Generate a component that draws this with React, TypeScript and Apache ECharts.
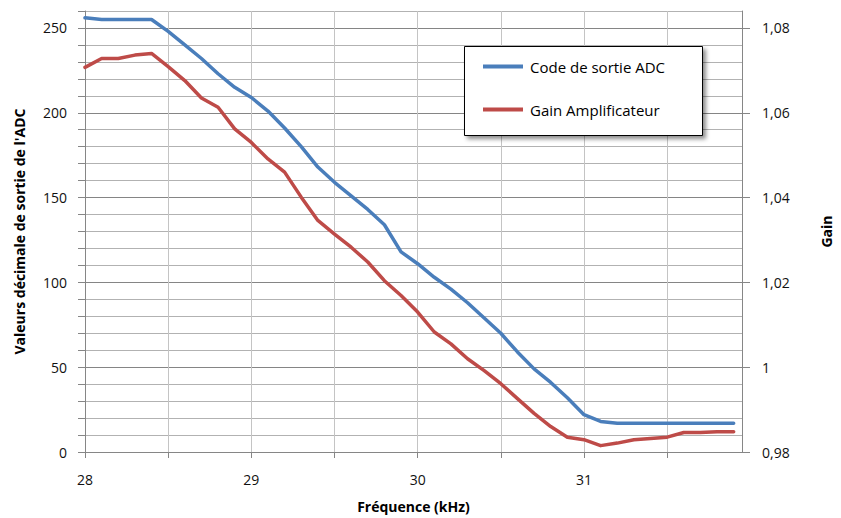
import React, { useEffect, useRef } from "react";
import * as echarts from "echarts";

const freq = [
  28.0, 28.1, 28.2, 28.3, 28.4, 28.5, 28.6, 28.7, 28.8, 28.9,
  29.0, 29.1, 29.2, 29.3, 29.4, 29.5, 29.6, 29.7, 29.8, 29.9,
  30.0, 30.1, 30.2, 30.3, 30.4, 30.5, 30.6, 30.7, 30.8, 30.9,
  31.0, 31.1, 31.2, 31.3, 31.4, 31.5, 31.6, 31.7, 31.8, 31.9,
];

const adcCode = [
  256, 255, 255, 255, 255, 248, 240, 232, 223, 215,
  209, 201, 191, 180, 168, 159, 151, 143, 134, 118,
  111, 103, 96, 88, 79, 70, 59, 49, 41, 32,
  22, 18, 17, 17, 17, 17, 17, 17, 17, 17,
];

const gainAmp = [
  1.0707, 1.0728, 1.0728, 1.0736, 1.074, 1.0709, 1.0676, 1.0635, 1.0613, 1.0562,
  1.053, 1.0491, 1.046, 1.0401, 1.0346, 1.0314, 1.0283, 1.0248, 1.0204, 1.0169,
  1.013, 1.0083, 1.0055, 1.002, 0.9992, 0.9961, 0.9926, 0.9891, 0.986, 0.9835,
  0.9829, 0.9815, 0.9821, 0.9829, 0.9832, 0.9835, 0.9846, 0.9846, 0.9848, 0.9848,
];

const xTicks = [28, 28.5, 29, 29.5, 30, 30.5, 31, 31.5];
const xLabels = [28, 29, 30, 31];
const leftLabels = [0, 50, 100, 150, 200, 250];
const rightLabels = [0.98, 1.0, 1.02, 1.04, 1.06, 1.08];

const seriesNames = ["Code de sortie ADC", "Gain Amplificateur"];
const FONT = "'Open Sans', sans-serif";

export default function App() {
  const ref = useRef<HTMLDivElement>(null);

  useEffect(() => {
    if (!ref.current) return;
    const chart = echarts.init(ref.current, null, { renderer: "svg" });
    const labelStyle = { fontFamily: FONT, fontSize: 14, color: "#111" };
    const nameStyle = { fontFamily: FONT, fontSize: 14, fontWeight: "bold", color: "#000" };
    chart.setOption({
      animation: false,
      backgroundColor: "#fff",
      grid: { left: 85, right: 90, top: 11, bottom: 66 },
      xAxis: {
        type: "value",
        min: 28,
        max: 31.95,
        interval: 0.25,
        axisLine: { show: true, lineStyle: { color: "#868686", width: 1 } },
        axisTick: {
          show: true,
          inside: false,
          length: 6,
          customValues: xTicks,
          lineStyle: { color: "#868686" },
        },
        axisLabel: {
          customValues: xLabels,
          margin: 20,
          ...labelStyle,
          formatter: (v: number) => String(v),
        },
        splitLine: { show: true, lineStyle: { color: "#c4c4c4", width: 1 } },
        name: "Fréquence (kHz)",
        nameLocation: "middle",
        nameGap: 47,
        nameTextStyle: nameStyle,
      },
      yAxis: [
        {
          type: "value",
          min: 0,
          max: 260,
          interval: 10,
          position: "left",
          axisLine: { show: true, lineStyle: { color: "#868686", width: 1 } },
          axisTick: { show: true, inside: false, length: 7, lineStyle: { color: "#868686" } },
          axisLabel: {
            customValues: leftLabels,
            margin: 18,
            ...labelStyle,
          },
          splitLine: {
            show: true,
            lineStyle: { color: ["#858585", "#b2b2b2", "#b2b2b2", "#b2b2b2", "#b2b2b2"], width: 1 },
          },
          name: "Valeurs décimale de sortie de l'ADC",
          nameLocation: "middle",
          nameGap: 59,
          nameRotate: 90,
          nameTextStyle: nameStyle,
        },
        {
          type: "value",
          min: 0.98,
          max: 1.084,
          position: "right",
          axisLine: { show: true, lineStyle: { color: "#868686", width: 1 } },
          axisTick: {
            show: true,
            inside: false,
            length: 8,
            customValues: rightLabels,
            lineStyle: { color: "#868686" },
          },
          axisLabel: {
            customValues: rightLabels,
            margin: 20,
            ...labelStyle,
            formatter: (v: number) => String(Number(v.toFixed(2))).replace(".", ","),
          },
          splitLine: { show: false },
          name: "Gain",
          nameLocation: "middle",
          nameGap: 77,
          nameRotate: 90,
          nameTextStyle: nameStyle,
        },
      ],
      graphic: [
        {
          type: "rect",
          z: 50,
          shape: { x: 464.5, y: 46.5, width: 238, height: 89 },
          style: {
            fill: "#fff",
            stroke: "#000",
            lineWidth: 1,
            shadowBlur: 4,
            shadowOffsetX: 3,
            shadowOffsetY: 3,
            shadowColor: "rgba(0,0,0,0.45)",
          },
        },
      ],
      legend: {
        z: 60,
        orient: "vertical",
        left: 483,
        top: 59,
        padding: 0,
        itemGap: 28,
        itemWidth: 40,
        itemHeight: 4,
        icon: "rect",
        data: seriesNames,
        textStyle: { fontFamily: FONT, fontSize: 15, color: "#000", padding: [0, 0, 0, 2] },
      },
      series: [
        {
          name: seriesNames[0],
          type: "line",
          yAxisIndex: 0,
          showSymbol: false,
          symbol: "none",
          color: "#4a7ebb",
          lineStyle: { color: "#4a7ebb", width: 3.5, join: "round", cap: "round" },
          data: freq.map((f, i) => [f, adcCode[i]]),
          z: 3,
        },
        {
          name: seriesNames[1],
          type: "line",
          yAxisIndex: 1,
          showSymbol: false,
          symbol: "none",
          color: "#be4b48",
          lineStyle: { color: "#be4b48", width: 3.5, join: "round", cap: "round" },
          data: freq.map((f, i) => [f, gainAmp[i]]),
          z: 2,
        },
      ],
    });
    return () => chart.dispose();
  }, []);

  return (
    <div
      ref={ref}
      style={{ position: "fixed", left: 0, top: 0, width: 841, height: 518, background: "#fff" }}
    />
  );
}
